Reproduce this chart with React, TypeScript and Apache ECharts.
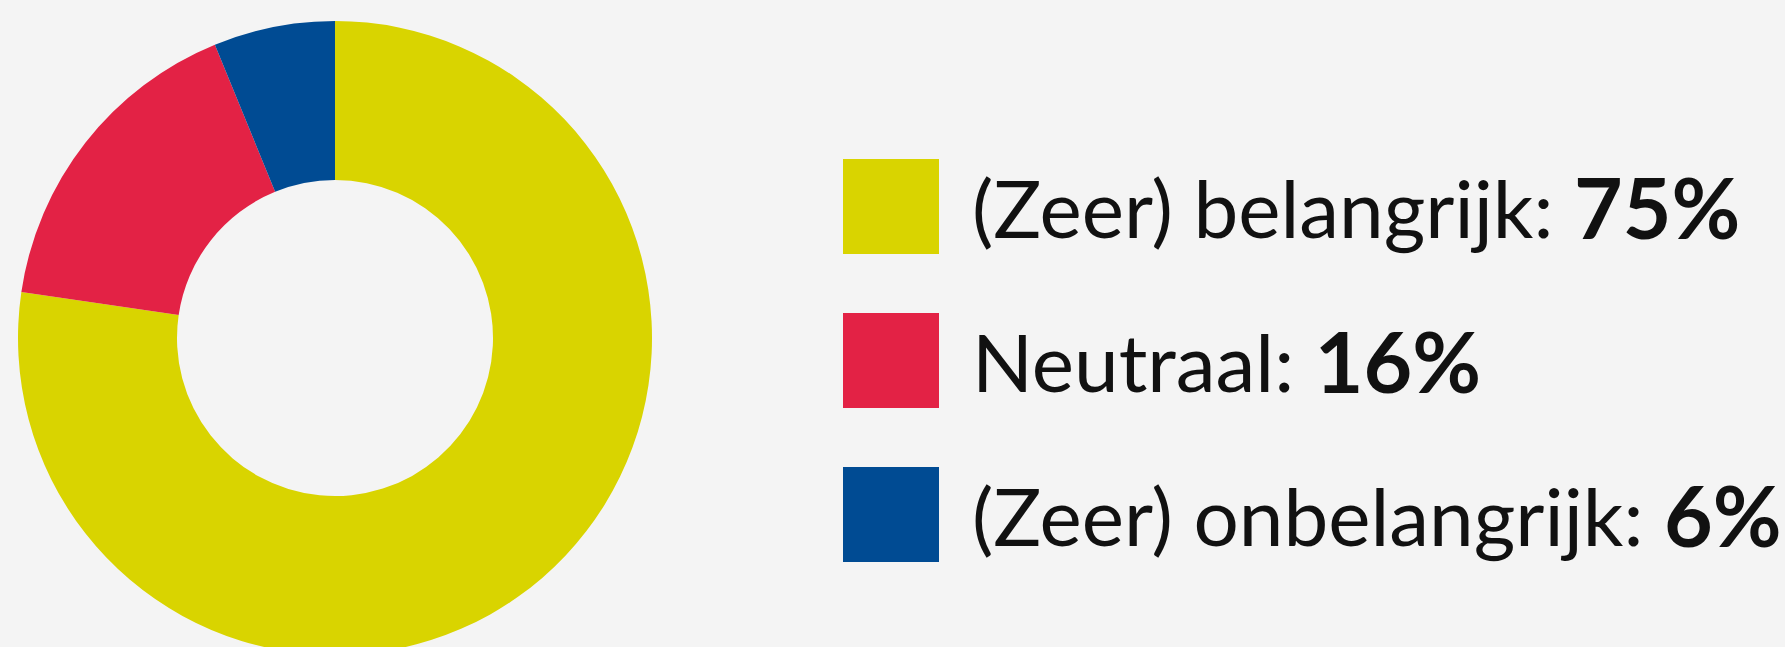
import React, { useEffect, useRef } from "react";
import * as echarts from "echarts";

const categories = ["(Zeer) belangrijk", "Neutraal", "(Zeer) onbelangrijk"];
const values = [75, 16, 6];
const colors = ["#d9d400", "#e32245", "#004b93"];

export default function App() {
  const ref = useRef<HTMLDivElement>(null);
  useEffect(() => {
    document.body.style.margin = "0";
    document.body.style.background = "#f4f4f4";
    const chart = echarts.init(ref.current!, null, { renderer: "svg" });
    const valueOf: Record<string, number> = {};
    categories.forEach((c, i) => (valueOf[c] = values[i]));
    chart.setOption({
      animation: false,
      backgroundColor: "#f4f4f4",
      color: colors,
      legend: {
        orient: "vertical",
        left: 843,
        top: 159,
        padding: 0,
        itemWidth: 96,
        itemHeight: 95,
        itemGap: 59,
        icon: "rect",
        selectedMode: false,
        data: categories,
        formatter: (name: string) => `{a|${name}: }{b|${valueOf[name]}%}`,
        textStyle: {
          padding: [0, 0, 0, 28],
          rich: {
            a: { fontFamily: "Lato", fontSize: 80, color: "#111111", fontWeight: 400 },
            b: { fontFamily: "Lato", fontSize: 84, color: "#111111", fontWeight: 700 },
          },
        },
      },
      series: [
        {
          type: "pie",
          center: [335, 338],
          radius: [158, 317],
          startAngle: 90,
          clockwise: true,
          label: { show: false },
          labelLine: { show: false },
          emphasis: { disabled: true },
          itemStyle: { borderWidth: 0 },
          data: categories.map((c, i) => ({ name: c, value: values[i] })),
        },
      ],
    });
    return () => chart.dispose();
  }, []);
  return <div ref={ref} style={{ width: 1785, height: 647 }} />;
}
